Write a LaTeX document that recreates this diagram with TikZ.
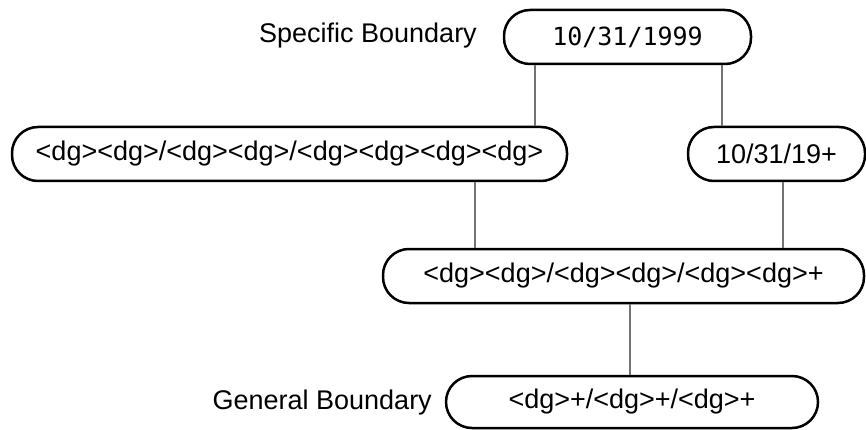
\documentclass[tikz,border=0pt]{standalone}
\usepackage{fontspec}
\setmainfont{Liberation Sans}
\newfontfamily\monofont{DejaVu Sans Mono}
\begin{document}
\begin{tikzpicture}[x=1pt,y=-1pt,
  pill/.style={draw=black, line width=2.5pt, rounded corners=26pt, minimum height=54pt, inner sep=0pt, font=\fontsize{27}{31}\selectfont},
  conn/.style={draw=black!55, line width=1.2pt},
  lbl/.style={font=\fontsize{27}{31}\selectfont, anchor=east, inner sep=0pt}]
\useasboundingbox (0,0) rectangle (866,430);
\node[pill, minimum width=247pt] (top) at (627.5,37) {\monofont\fontsize{25}{30}\selectfont 10/31/1999};
\node[pill, minimum width=555pt] (left) at (289.5,154) {<dg><dg>/<dg><dg>/<dg><dg><dg><dg>};
\node[pill, minimum width=177pt] (right) at (776.5,154) {10/31/19+};
\node[pill, minimum width=481pt] (mid) at (623.5,276) {<dg><dg>/<dg><dg>/<dg><dg>+};
\node[pill, minimum width=372pt, minimum height=52pt] (bot) at (632,402) {<dg>+/<dg>+/<dg>+};
\node[lbl] (spec) at (477,36) {Specific Boundary};
\node[lbl] (gen) at (432,403) {General Boundary};
\coordinate (c1) at (535,0);
\coordinate (c2) at (722,0);
\coordinate (c3) at (475,0);
\coordinate (c4) at (783,0);
\coordinate (c5) at (630,0);
\draw[conn] (top.south -| c1) -- (left.north -| c1);
\draw[conn] (top.south -| c2) -- (right.north -| c2);
\draw[conn] (left.south -| c3) -- (mid.north -| c3);
\draw[conn] (right.south -| c4) -- (mid.north -| c4);
\draw[conn] (mid.south -| c5) -- (bot.north -| c5);
\end{tikzpicture}
\end{document}
